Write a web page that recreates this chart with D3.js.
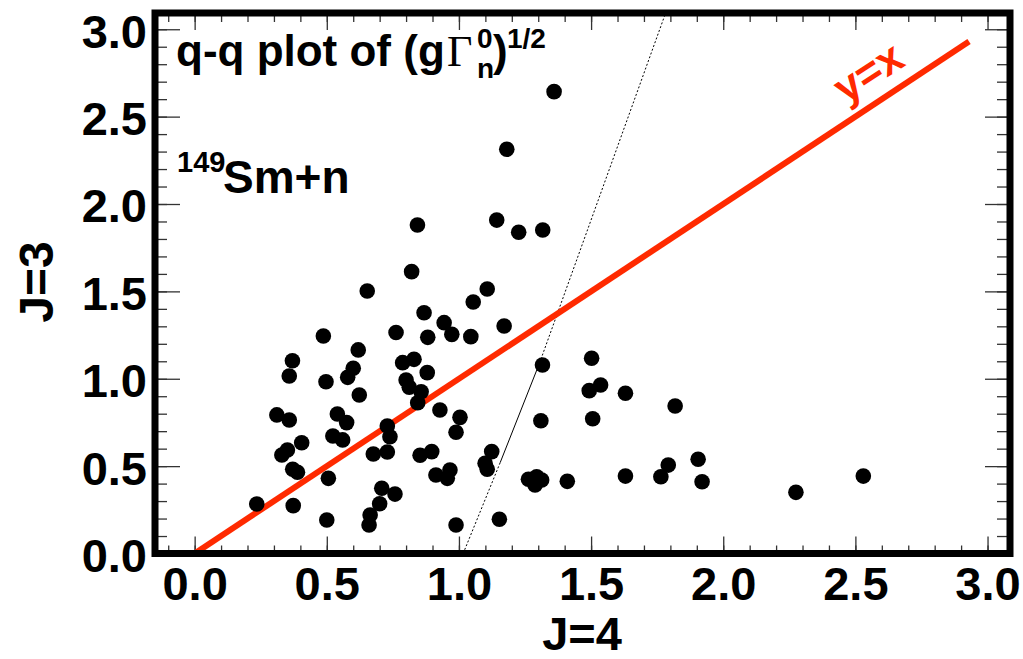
<!DOCTYPE html>
<html>
<head>
<meta charset="utf-8">
<script src="https://cdn.jsdelivr.net/npm/d3@7"></script>
<style>
  body { margin: 0; background: #fff; }
  text { font-family: 'Liberation Sans', Arial, sans-serif; font-weight: bold; }
</style>
</head>
<body>
<svg width="1023" height="659"></svg>
<script>

    // q-q plot values: J=4 on x, J=3 on y
    let j4 = [1.360, 1.181, 1.143, 1.317, 1.226, 0.843, 0.821, 0.653, 1.107, 1.054,
              0.868, 0.762, 0.944, 0.973, 1.045, 1.171, 0.882, 0.487, 0.619, 0.370,
              0.358, 0.600, 0.579, 0.497, 0.623, 0.830, 0.787, 0.800, 0.812, 0.880,
              0.857, 0.844, 1.316, 1.502, 1.493, 1.536, 1.630, 1.818, 1.506, 1.310,
              0.311, 0.358, 0.540, 0.575, 0.729, 0.739, 0.523, 0.560, 0.928, 1.004,
              0.989, 0.897, 0.330, 0.351, 0.405, 0.371, 0.389, 0.676, 0.729, 0.853,
              1.124, 1.099, 1.107, 0.913, 0.966, 0.956, 0.506, 0.708, 0.758, 0.700,
              0.373, 0.235, 0.500, 0.664, 0.660, 0.989, 1.153, 1.263, 1.294, 1.288,
              1.313, 1.410, 1.630, 1.764, 1.792, 1.905, 1.920, 2.275, 2.530];

    let j3 = [2.643, 2.313, 1.908, 1.851, 1.838, 1.880, 1.613, 1.502, 1.514, 1.439,
              1.378, 1.265, 1.321, 1.254, 1.241, 1.302, 1.237, 1.245, 1.165, 1.103,
              1.016, 1.060, 1.008, 0.983, 0.907, 1.111, 1.092, 0.993, 0.951, 1.035,
              0.926, 0.863, 1.079, 1.117, 0.932, 0.964, 0.917, 0.844, 0.771, 0.760,
              0.793, 0.764, 0.798, 0.749, 0.730, 0.668, 0.672, 0.650, 0.821, 0.779,
              0.694, 0.583, 0.564, 0.592, 0.634, 0.482, 0.465, 0.569, 0.581, 0.562,
              0.583, 0.516, 0.482, 0.449, 0.478, 0.430, 0.430, 0.373, 0.340, 0.285,
              0.274, 0.283, 0.192, 0.220, 0.163, 0.163, 0.196, 0.425, 0.439, 0.392,
              0.421, 0.413, 0.443, 0.439, 0.506, 0.539, 0.411, 0.350, 0.443];

    let majorTicks = [0, 0.5, 1.0, 1.5, 2.0, 2.5, 3.0];
    let tickLabels = ['0.0', '0.5', '1.0', '1.5', '2.0', '2.5', '3.0'];

    // y = x reference line and the thin cut line
    let diagX = [0, 2.93];
    let diagY = [0, 2.93];
    let cutX = [1.016, 1.156, 1.305, 1.782];
    let cutY = [0, 0.52, 1.09, 3.093];

    let svg = d3.select('svg');

    let x = d3.scaleLinear().domain([-0.15, 3.085]).range([155, 1010]);
    let y = d3.scaleLinear().domain([0, 3.093]).range([553.5, 13]);

    let minorX = d3.range(-1, 31).map(i => i / 10);
    let minorY = d3.range(0, 31).map(i => i / 10);

    svg.append('clipPath').attr('id', 'frame')
        .append('rect')
        .attr('x', x.range()[0]).attr('y', y.range()[1])
        .attr('width', x.range()[1] - x.range()[0])
        .attr('height', y.range()[0] - y.range()[1]);

    // ticks (all pointing inward), minor then major
    function ticks(makeAxis, tr, size, minorSize, minor, labels, pad) {
        svg.append('g').attr('class', 'tk').attr('transform', tr)
            .call(makeAxis().tickValues(minor).tickSize(minorSize).tickFormat(''));
        return svg.append('g').attr('class', 'tk').attr('transform', tr)
            .call(makeAxis().tickValues(majorTicks).tickSize(size).tickPadding(pad)
                .tickFormat(labels ? (d, i) => tickLabels[i] : ''));
    }

    ticks(() => d3.axisBottom(x), 'translate(0,' + y(0) + ')', -17, -8, minorX, true, 13);
    ticks(() => d3.axisTop(x), 'translate(0,' + y.range()[1] + ')', -17, -9, minorX, false, 3);
    let left = ticks(() => d3.axisLeft(y), 'translate(' + x.range()[0] + ',0)', -25, -12, minorY, true, 8);
    ticks(() => d3.axisRight(y), 'translate(' + x.range()[1] + ',0)', -25, -13, minorY, false, 3);

    svg.selectAll('.tk .domain').remove();
    svg.selectAll('.tk line').attr('stroke', '#333').attr('stroke-width', 1.3);
    svg.selectAll('.tk text')
        .style('font-size', '47px').style('font-weight', 'bold')
        .style('font-family', "'Liberation Sans', Arial, sans-serif")
        .attr('fill', '#000');
    left.selectAll('text').attr('dy', '0.38em');

    // cut line: dotted, solid in the middle
    let plot = svg.append('g').attr('clip-path', 'url(#frame)');
    for (let i = 0; i < cutX.length - 1; i++) {
        plot.append('line')
            .attr('x1', x(cutX[i])).attr('y1', y(cutY[i]))
            .attr('x2', x(cutX[i + 1])).attr('y2', y(cutY[i + 1]))
            .attr('stroke', '#000').attr('stroke-width', 1)
            .attr('stroke-dasharray', i === 1 ? null : '2,2');
    }

    plot.append('line')
        .attr('x1', x(diagX[0])).attr('y1', y(diagY[0]))
        .attr('x2', x(diagX[1])).attr('y2', y(diagY[1]))
        .attr('stroke', '#ff2a00').attr('stroke-width', 6);

    plot.selectAll('circle')
        .data(j4)
        .enter().append('circle')
        .attr('cx', d => x(d))
        .attr('cy', (d, i) => y(j3[i]))
        .attr('r', 7.8)
        .attr('fill', '#000');

    // frame
    svg.append('rect')
        .attr('x', x.range()[0]).attr('y', y.range()[1])
        .attr('width', x.range()[1] - x.range()[0])
        .attr('height', y.range()[0] - y.range()[1])
        .attr('fill', 'none').attr('stroke', '#000').attr('stroke-width', 7);

    // labels
    svg.append('text').attr('x', 582).attr('y', 650)
        .attr('text-anchor', 'middle').style('font-size', '47px').text('J=4');

    svg.append('text').attr('transform', 'translate(53,282) rotate(-90)')
        .attr('text-anchor', 'middle').style('font-size', '48px').text('J=3');

    svg.append('text').attr('transform', 'translate(868,72) rotate(-33)')
        .attr('text-anchor', 'middle').attr('dy', '0.35em')
        .attr('fill', '#ff2a00').style('font-size', '43px').text('y=x');

    let title = svg.append('g');
    title.append('text').attr('x', 176).attr('y', 66).style('font-size', '44px').text('q-q plot of (g');
    title.append('text').attr('x', 447).attr('y', 66)
        .style('font-family', "'Liberation Serif', serif").style('font-weight', 'normal')
        .style('font-size', '44px').text('Γ');
    title.append('text').attr('x', 477).attr('y', 48).style('font-size', '28px').text('0');
    title.append('text').attr('x', 477).attr('y', 78).style('font-size', '28px').text('n');
    title.append('text').attr('x', 493).attr('y', 66).style('font-size', '44px').text(')');
    title.append('text').attr('x', 507).attr('y', 48).style('font-size', '28px').text('1/2');

    svg.append('text').attr('x', 177).attr('y', 172).style('font-size', '29px').text('149');
    svg.append('text').attr('x', 223).attr('y', 193).style('font-size', '46px').text('Sm+n');

</script>
</body>
</html>
